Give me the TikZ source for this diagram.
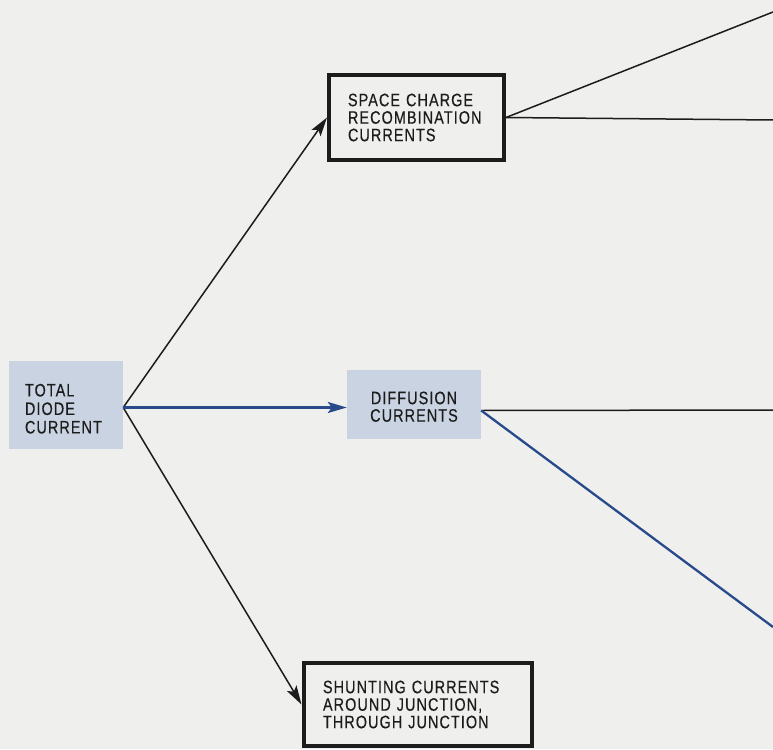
\documentclass[tikz,border=0pt]{standalone}
\usepackage{fontspec}
\setmainfont{Liberation Sans}[FakeStretch=0.8, LetterSpace=6, FakeBold=0.4]
\usepackage{xcolor}
\usepackage{tikz}
\usetikzlibrary{arrows.meta,positioning}

\definecolor{paper}{RGB}{239,239,237}
\definecolor{shade}{RGB}{201,211,226}
\definecolor{ink}{RGB}{28,28,28}
\definecolor{lineblue}{RGB}{40,74,140}

\begin{document}
\begin{tikzpicture}[x=1pt, y=-1pt]

\tikzstyle{every node}=[font=\fontsize{18}{17.5}\selectfont, text=ink]
\tikzstyle{shaded}=[fill=shade, inner sep=0pt]
\tikzstyle{framed}=[draw=ink, line width=4pt, fill=paper, inner sep=0pt, align=left]
\tikzstyle{link}=[draw=ink, line width=1.5pt]
\tikzstyle{bluelink}=[draw=lineblue, line width=2.3pt]
\tikzstyle{tip}=[-{Stealth[length=19pt,width=11pt,inset=4pt]}]

\fill[paper] (0,0) rectangle (773,749);
\useasboundingbox (0,0) rectangle (773,749);

\node[shaded, minimum width=114pt, minimum height=88pt, text width=82pt, align=left, font=\fontsize{18}{18.5}\selectfont] (Total) at (66,405) {\rule{0pt}{20pt}TOTAL\\DIODE\\CURRENT};
\node[shaded, minimum width=134pt, minimum height=69pt, align=center] (Diff) at (414,404.5) {\rule{0pt}{17pt}DIFFUSION\\CURRENTS};
\node[framed, minimum width=175pt, minimum height=85pt, text width=137pt] (Space) at (416.5,117.5) {SPACE CHARGE\\RECOMBINATION\\CURRENTS};
\node[framed, minimum width=228pt, minimum height=83pt, text width=189pt] (Shunt) at (417.5,704.5) {SHUNTING CURRENTS\\AROUND JUNCTION,\\THROUGH JUNCTION};

\coordinate (apex) at ([yshift=-2.5pt]Total.east);
\coordinate (dout) at ([yshift=-6pt]Diff.east);
\coordinate (SpaceUp) at (773,12);
\coordinate (SpaceRight) at (773,120);
\coordinate (DiffRight) at (773,410);
\coordinate (DiffDown) at (773,627);

\path
(apex) edge[link, tip] (Space.west)
(apex) edge[link, tip] (Shunt.west)
(apex) edge[bluelink, tip] ([yshift=-3pt]Diff.west)
(Space.east) edge[link] (SpaceUp)
(Space.east) edge[link] (SpaceRight)
(dout) edge[link] (DiffRight)
(dout) edge[bluelink] (DiffDown);
\end{tikzpicture}
\end{document}
